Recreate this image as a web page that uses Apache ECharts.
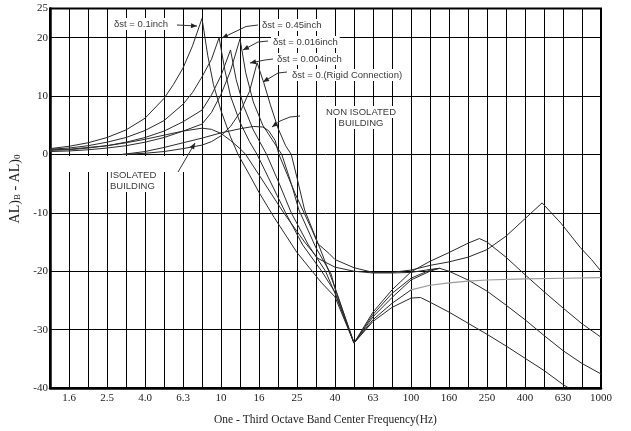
<!DOCTYPE html>
<html>
<head>
<meta charset="utf-8">
<script src="https://cdn.jsdelivr.net/npm/echarts@6/dist/echarts.min.js"></script>
<style>
html,body{margin:0;padding:0;background:#fff;}
#chart{width:631px;height:431px;}
</style>
</head>
<body>
<div id="chart"></div>
<script>
// One-third octave band centre frequencies (Hz); x position = band number
const bandLabels = ['1.25','1.6','2.0','2.5','3.15','4.0','5.0','6.3','8.0','10','12.5','16','20','25','31.5','40','50','63','80','100','125','160','200','250','315','400','500','630','800','1000'];

// [band number, (AL)B - AL)0 dB]
const curveA = [[0,1.0],[1,1.4],[2,2.0],[3,2.9],[4,4.2],[5,6.2],[6,9.6],[6.5,12.0],[7,14.8],[7.5,18.6],[8,23.3],[8.3,17.0],[8.6,12.0],[9,7.5],[9.5,3.0],[9.9,0],[10.5,-3.5],[11,-6.5],[11.8,-10.8],[12.5,-14.3],[13,-16.8],[13.8,-20],[14.3,-22],[15,-24.4],[16,-32.3],[17,-27],[18,-23.2],[19,-20.1],[20,-18.3],[21,-16.8],[22,-15.2],[22.6,-14.4],[23,-15],[24,-17.6],[25,-20.6],[26,-23.5],[27,-26.3],[28,-29.0],[29,-31.3]];
const curveB = [[0,0.9],[1,1.1],[2,1.5],[3,2.1],[4,2.9],[5,4.1],[6,5.8],[7,8.6],[7.5,10.6],[8,13.3],[8.5,16.3],[8.9,20],[9.2,14.5],[9.5,10],[10,5.5],[10.5,2.2],[10.9,0],[11.5,-4],[12.4,-10],[13.3,-15.5],[14.3,-20],[15,-23.6],[16,-32.3],[17,-27.8],[18,-24.5],[19,-21.5],[20,-20],[20.5,-19.5],[21,-20],[22,-21.5],[23,-23.4],[24,-25.8],[25,-28.3],[26,-31],[27,-33.6],[28,-35.8],[29,-37.6]];
const curveC = [[0,0.7],[1,0.8],[2,1.1],[3,1.5],[4,2.1],[5,2.9],[6,4.0],[7,5.6],[8,7.6],[8.5,10.2],[9,13.5],[9.5,17.9],[9.8,12.8],[10.2,8.2],[10.7,4.2],[11.4,0],[12,-4.5],[12.7,-10],[13.6,-15.5],[14.5,-20],[15,-23.8],[16,-32.3],[17,-28.3],[18,-25.5],[19,-23.2]];
const curveCTail = [[19,-23.2],[20,-22.4],[21,-22],[22,-21.7],[23,-21.5],[25,-21.3],[27,-21.2],[29,-21.1]];
const curveD = [[0,0.5],[1,0.6],[2,0.8],[3,1.1],[4,1.5],[5,2.1],[6,2.9],[7,4.0],[8,5.2],[8.5,7.2],[9,10.3],[9.5,14.3],[10,19.8],[10.3,14],[10.7,9],[11.2,5],[11.7,2.5],[12.2,0],[12.7,-5],[13.1,-9.5],[14,-16],[14.8,-20.5],[15,-23],[16,-32.3],[17,-28.6],[18,-26.2],[19,-24.6],[19.5,-24.5],[20,-25.3],[21,-27],[22,-28.9],[23,-30.8],[24,-32.8],[25,-34.9],[26,-37],[27,-39.4],[27.3,-40]];
const curveE = [[3.8,0],[5,0.2],[6,0.5],[7,1.0],[8,1.6],[8.5,2.2],[9,3.2],[9.5,4.8],[10,7.2],[10.5,10.8],[10.9,15.7],[11.25,12.3],[11.6,8.5],[12,4.5],[12.4,1.5],[12.7,0],[13,-4],[13.4,-9.5],[14.2,-16],[15,-22.8],[16,-32.3],[17,-27.4],[18,-23.8],[19,-21.2],[20,-19.8],[20.5,-19.5]];
const curveIsolated = [[0,0.8],[1,0.9],[2,1.2],[3,1.5],[4,2.0],[5,2.6],[6,3.3],[7,4.0],[8,4.5],[8.5,4.3],[9,3.6],[9.5,2.4],[10,1],[10.3,0],[11,-3.5],[12.3,-10],[13.4,-15],[14.1,-17.8],[15,-19.3],[16,-20],[17,-20.3],[18,-20.3],[19,-20.2],[20,-19.7],[20.5,-19.5]];
const curveNonIsolated = [[3.8,0],[5,0.5],[6,1.2],[7,2.0],[8,2.8],[9,3.7],[10,4.4],[10.7,4.8],[11.2,4.7],[11.5,4.1],[11.85,2.4],[12.05,0],[12.9,-6.7],[13.8,-13],[14.1,-15.3],[14.7,-17],[15,-18],[16,-19.4],[17,-20.2],[18,-20.2],[19,-19.8],[20,-19],[21,-18.4],[22,-17.6],[23,-16.3],[24,-14],[25,-11],[25.9,-8.3],[26.9,-11.8],[27.9,-15.9],[28.5,-18],[29,-20]];

const chart = echarts.init(document.getElementById('chart'), null, {renderer:'canvas'});

const lineColor = '#2b2b2b';
function mk(data, color, width){
  return {type:'line', data:data, symbol:'none', smooth:false, z:3,
    lineStyle:{color:color||lineColor, width:width||1}, silent:true};
}

// annotation leaders (pixel positions of the reference layout)
const leaders = [
  [[177,25],[197,26]],
  [[258,25],[246,26.5],[222,38]],
  [[268,41],[258,42],[243,50]],
  [[273,59],[265,60],[250,63]],
  [[287,72],[278,73],[263,82]],
  [[300,116],[290,117],[280,121],[272,127]],
  [[178,172],[195,143]]
];
const notes = [
  {t:'δst = 0.1inch', x:112, y:24, a:'left'},
  {t:'δst = 0.45inch', x:260, y:25, a:'left'},
  {t:'δst = 0.016inch', x:271, y:42, a:'left'},
  {t:'δst = 0.004inch', x:275, y:59, a:'left'},
  {t:'δst = 0.(Rigid Connection)', x:290, y:75, a:'left'},
  {t:'NON ISOLATED', x:361, y:112, a:'center'},
  {t:'BUILDING', x:361, y:123, a:'center'},
  {t:'ISOLATED', x:108, y:175, a:'left'},
  {t:'BUILDING', x:108, y:186, a:'left'}
];

const graphics = [];
graphics.push({type:'rect', shape:{x:57,y:156,width:130,height:16}, style:{fill:'#fff'}, z:1, silent:true});
notes.forEach(n=>{
  graphics.push({type:'text', x:n.x, y:n.y, z:5, silent:true,
    style:{text:n.t, fill:'#3a3a3a', font:'9.5px "Liberation Sans", Arial, sans-serif',
      textAlign:n.a, textVerticalAlign:'middle', backgroundColor:'#fff', padding:[1,2]}});
});
leaders.forEach(p=>{
  graphics.push({type:'polyline', z:6, silent:true, shape:{points:p}, style:{stroke:'#333', lineWidth:1, fill:null}});
  const a = p[p.length-2], b = p[p.length-1];
  const dx=b[0]-a[0], dy=b[1]-a[1], L=Math.hypot(dx,dy), ux=dx/L, uy=dy/L;
  const len=6, hw=2.5;
  const bx=b[0]-ux*len, by=b[1]-uy*len;
  graphics.push({type:'polygon', z:6, silent:true, shape:{points:[[b[0],b[1]],[bx-uy*hw,by+ux*hw],[bx+uy*hw,by-ux*hw]]}, style:{fill:'#222'}});
});
graphics.push({type:'text', x:15, y:189, rotation:Math.PI/2, z:5, silent:true,
  style:{text:'AL){s|B} - AL){s|0}', fill:'#222', font:'14px "Liberation Serif", "Times New Roman", serif',
    textAlign:'center', textVerticalAlign:'middle',
    rich:{s:{fontSize:9, fontFamily:'Liberation Serif', fill:'#222', verticalAlign:'bottom', padding:[6,0,0,0]}}}});

const option = {
  animation:false,
  backgroundColor:'#fff',
  grid:{left:50, right:30, top:8.5, bottom:42, show:true, borderColor:'#000', borderWidth:2, backgroundColor:'transparent'},
  xAxis:{type:'value', min:0, max:29, interval:1,
    axisLine:{onZero:false, lineStyle:{color:'#000', width:2.5}},
    axisTick:{show:false},
    splitLine:{show:true, lineStyle:{color:'#000', width:1}},
    axisLabel:{formatter:v=>{const i=Math.round(v); return i%2===1?bandLabels[i]:'';}, fontFamily:'"Liberation Serif", serif', fontSize:11, color:'#222', margin:5, showMinLabel:true, showMaxLabel:true},
    name:'One - Third Octave Band Center Frequency(Hz)', nameLocation:'middle', nameGap:26,
    nameTextStyle:{fontFamily:'"Liberation Serif", serif', fontSize:11.5, color:'#222'}
  },
  yAxis:{type:'value', min:-40, max:25, interval:10,
    axisLine:{onZero:false, lineStyle:{color:'#000', width:2.5}},
    axisTick:{show:false},
    splitLine:{show:true, lineStyle:{color:'#000', width:1}},
    axisLabel:{fontFamily:'"Liberation Serif", serif', fontSize:11, color:'#222', margin:2, showMaxLabel:true}
  },
  graphic:graphics,
  series:[
    mk(curveA), mk(curveB), mk(curveC), mk(curveCTail,'#999',1.2), mk(curveD), mk(curveE),
    mk(curveIsolated), mk(curveNonIsolated)
  ]
};
chart.setOption(option);
</script>
</body>
</html>
